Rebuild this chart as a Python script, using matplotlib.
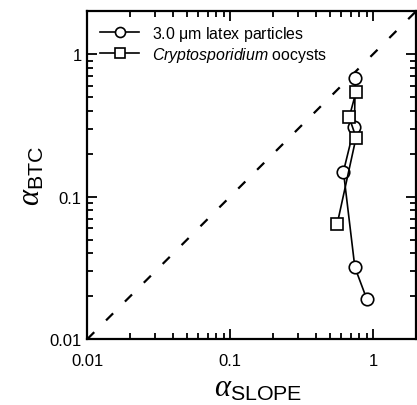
import numpy as np
import matplotlib
matplotlib.use("Agg")
import matplotlib.pyplot as plt
from matplotlib.ticker import LogLocator, FixedLocator, FixedFormatter, NullFormatter

# ======================
# DATA
# ======================
latex_slope = [0.75, 0.74, 0.62, 0.745, 0.90]
latex_btc = [0.68, 0.31, 0.150, 0.032, 0.0193]

crypto_slope = [0.76, 0.68, 0.76, 0.56]
crypto_btc = [0.545, 0.36, 0.26, 0.064]

one_to_one = [0.01, 2.0]

tick_vals = [0.01, 0.1, 1]
tick_labels = ["0.01", "0.1", "1"]

# ======================
# STYLE
# ======================
plt.rcParams["font.family"] = ["Liberation Sans", "DejaVu Sans"]
plt.rcParams["mathtext.fontset"] = "custom"
plt.rcParams["mathtext.rm"] = "Liberation Sans"
plt.rcParams["mathtext.it"] = "Liberation Serif:italic"
plt.rcParams["mathtext.sf"] = "Liberation Sans:italic"

fig = plt.figure(figsize=(4.17, 4.06), dpi=100)
ax = fig.add_axes([0.209, 0.162, 0.789, 0.808])

# 1:1 line
ax.plot(one_to_one, one_to_one, color="black", lw=1.6, dashes=(4.5, 7.5))

ax.plot(latex_slope, latex_btc, color="black", lw=1.2, marker="o", ms=9,
        mfc="white", mec="black", mew=1.2, label=r"3.0 $\mathrm{\mu}$m latex particles")
ax.plot(crypto_slope, crypto_btc, color="black", lw=1.2, marker="s", ms=8.5,
        mfc="white", mec="black", mew=1.2, label=r"$\mathsf{Cryptosporidium}$ oocysts")

ax.set_xscale("log")
ax.set_yscale("log")
ax.set_xlim(0.01, 2)
ax.set_ylim(0.01, 2)

for axis in (ax.xaxis, ax.yaxis):
    axis.set_major_locator(FixedLocator(tick_vals))
    axis.set_major_formatter(FixedFormatter(tick_labels))
    axis.set_minor_locator(LogLocator(base=10, subs=np.arange(2, 10)))
    axis.set_minor_formatter(NullFormatter())

ax.tick_params(which="both", direction="in", top=True, right=True, width=1.3)
ax.tick_params(which="major", length=7, labelsize=12, pad=4)
ax.tick_params(which="minor", length=4)
ax.tick_params(axis="x", which="major", pad=10)
for sp in ax.spines.values():
    sp.set_linewidth(1.6)

ax.set_xlabel(r"$\alpha_{\mathrm{SLOPE}}$", fontsize=22, labelpad=3)
ax.xaxis.label.set_x(0.52)
ax.set_ylabel(r"$\alpha_{\mathrm{BTC}}$", fontsize=22, labelpad=2)

leg = ax.legend(loc="upper left", frameon=False, fontsize=11.4, handlelength=2.5,
                handletextpad=0.8, borderaxespad=0.4, labelspacing=0.12,
                markerscale=0.8)

fig.savefig("out.png", dpi=100)
